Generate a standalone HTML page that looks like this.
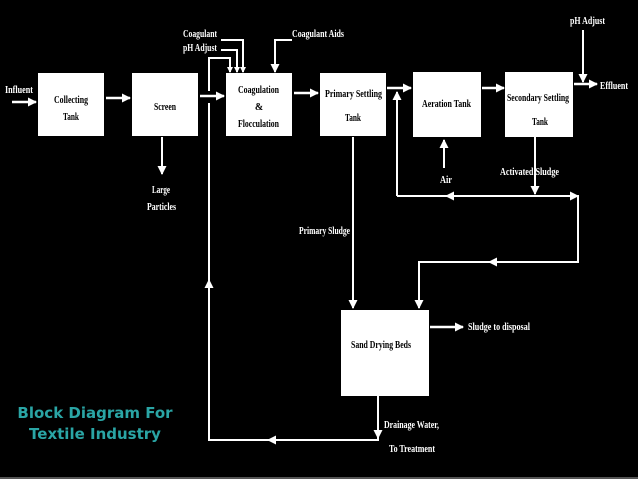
<!DOCTYPE html>
<html><head><meta charset="utf-8"><style>
html,body{margin:0;padding:0;background:#000;width:638px;height:479px;overflow:hidden}
svg text{font-family:"Liberation Serif",serif;fill:#fff;font-size:10px;font-weight:bold}
svg text.k{fill:#000}
</style></head><body>
<svg width="638" height="479" xmlns="http://www.w3.org/2000/svg">
<defs><marker id="a" markerWidth="6" markerHeight="6" refX="5" refY="3" orient="auto" markerUnits="userSpaceOnUse" viewBox="0 0 6 6"><path d="M0,0L6,3L0,6z" fill="#fff"/></marker>
<marker id="b" markerWidth="9" markerHeight="9" refX="8" refY="4.5" orient="auto" markerUnits="userSpaceOnUse" viewBox="0 0 9 9"><path d="M0,0L9,4.5L0,9z" fill="#fff"/></marker></defs>
<g fill="#fff">
<rect x="38" y="73" width="66" height="63"/>
<rect x="132" y="73" width="66" height="63"/>
<rect x="226" y="73" width="66" height="63"/>
<rect x="320" y="73" width="66" height="63"/>
<rect x="413" y="72" width="68" height="65"/>
<rect x="505" y="72" width="68" height="65"/>
<rect x="341" y="310" width="88" height="86"/>
</g>
<g stroke="#fff" stroke-width="2.5" fill="none" marker-end="url(#b)">
<path d="M12 102H36"/>
<path d="M106 98H130"/>
<path d="M200 96H224"/>
<path d="M294 93H318"/>
<path d="M387 88H411"/>
<path d="M482 88H504"/>
<path d="M574 84H597"/>
<path d="M430 327H463"/>
</g>
<g stroke="#fff" stroke-width="2" fill="none">
<path d="M162 137V174" marker-end="url(#b)"/>
<path d="M583 30V82" marker-end="url(#b)"/>
<path d="M221 40H243V72" marker-end="url(#a)"/>
<path d="M221 50H237V72" marker-end="url(#a)"/>
<path d="M209 91V58H230V72" marker-end="url(#a)"/>
<path d="M292 40H275V72" marker-end="url(#b)"/>
<path d="M209 103V440H378V396"/>
<path d="M209 300V280" marker-end="url(#b)"/>
<path d="M300 440H268" marker-end="url(#b)"/>
<path d="M378 420V438" marker-end="url(#b)"/>
<path d="M353 137V308" marker-end="url(#b)"/>
<path d="M444 168V140" marker-end="url(#b)"/>
<path d="M535 137V194" marker-end="url(#b)"/>
<path d="M397 196H578V262H419V308" marker-end="url(#b)"/>
<path d="M560 196H578" marker-end="url(#b)"/>
<path d="M480 196H446" marker-end="url(#b)"/>
<path d="M520 262H489" marker-end="url(#b)"/>
<path d="M397 196V92" marker-end="url(#b)"/>
</g>
<g lengthAdjust="spacingAndGlyphs">
<text x="5" y="93" textLength="28" lengthAdjust="spacingAndGlyphs">Influent</text>
<text class="k" x="54" y="103" textLength="34" lengthAdjust="spacingAndGlyphs">Collecting</text>
<text class="k" x="63" y="120" textLength="16" lengthAdjust="spacingAndGlyphs">Tank</text>
<text class="k" x="154" y="110" textLength="22" lengthAdjust="spacingAndGlyphs">Screen</text>
<text class="k" x="238" y="93" textLength="41" lengthAdjust="spacingAndGlyphs">Coagulation</text>
<text class="k" x="259" y="110" text-anchor="middle">&amp;</text>
<text class="k" x="238" y="127" textLength="41" lengthAdjust="spacingAndGlyphs">Flocculation</text>
<text class="k" x="325" y="97" textLength="57" lengthAdjust="spacingAndGlyphs">Primary Settling</text>
<text class="k" x="345" y="121" textLength="16" lengthAdjust="spacingAndGlyphs">Tank</text>
<text class="k" x="422" y="107" textLength="49" lengthAdjust="spacingAndGlyphs">Aeration Tank</text>
<text class="k" x="507" y="101" textLength="62" lengthAdjust="spacingAndGlyphs">Secondary Settling</text>
<text class="k" x="532" y="125" textLength="16" lengthAdjust="spacingAndGlyphs">Tank</text>
<text class="k" x="351" y="348" textLength="60" lengthAdjust="spacingAndGlyphs">Sand Drying Beds</text>
<text x="183" y="37" textLength="34" lengthAdjust="spacingAndGlyphs">Coagulant</text>
<text x="183" y="51" textLength="34" lengthAdjust="spacingAndGlyphs">pH Adjust</text>
<text x="292" y="37" textLength="52" lengthAdjust="spacingAndGlyphs">Coagulant Aids</text>
<text x="570" y="24" textLength="35" lengthAdjust="spacingAndGlyphs">pH Adjust</text>
<text x="600" y="89" textLength="28" lengthAdjust="spacingAndGlyphs">Effluent</text>
<text x="152" y="193" textLength="18" lengthAdjust="spacingAndGlyphs">Large</text>
<text x="147" y="210" textLength="29" lengthAdjust="spacingAndGlyphs">Particles</text>
<text x="299" y="234" textLength="51" lengthAdjust="spacingAndGlyphs">Primary Sludge</text>
<text x="440" y="183" textLength="12" lengthAdjust="spacingAndGlyphs">Air</text>
<text x="500" y="175" textLength="59" lengthAdjust="spacingAndGlyphs">Activated Sludge</text>
<text x="468" y="330" textLength="62" lengthAdjust="spacingAndGlyphs">Sludge to disposal</text>
<text x="384" y="428" textLength="55" lengthAdjust="spacingAndGlyphs">Drainage Water,</text>
<text x="389" y="452" textLength="46" lengthAdjust="spacingAndGlyphs">To Treatment</text>
</g>
<text x="95" y="418" text-anchor="middle" style="font-family:'DejaVu Sans',sans-serif;font-weight:bold;font-size:15px;fill:#2aa5a5">Block Diagram For</text>
<text x="95" y="439" text-anchor="middle" style="font-family:'DejaVu Sans',sans-serif;font-weight:bold;font-size:15px;fill:#2aa5a5">Textile Industry</text>
<rect x="0" y="477" width="638" height="2" fill="#555"/>
</svg>
</body></html>
